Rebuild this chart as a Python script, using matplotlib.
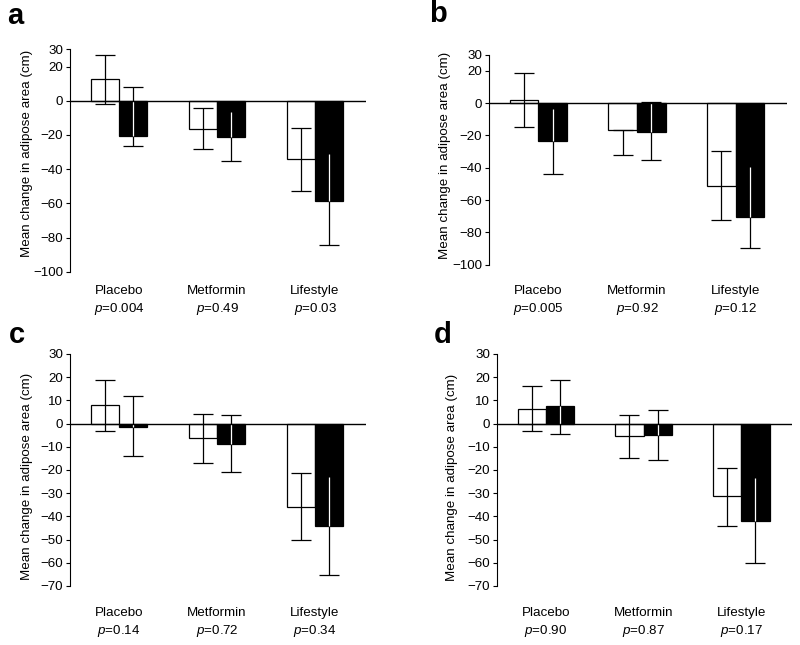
import matplotlib.pyplot as plt
import matplotlib.transforms as mtransforms
import numpy as np

plt.rcParams['font.family'] = 'Liberation Sans'
plt.rcParams['mathtext.fontset'] = 'custom'
plt.rcParams['mathtext.rm'] = 'Liberation Sans'
plt.rcParams['mathtext.it'] = 'Liberation Sans:italic'

groups = ['Placebo', 'Metformin', 'Lifestyle']
ylabel = 'Mean change in adipose area (cm)'

# panel a
a_white = [12.6, -16.5, -34.0]
a_white_lo = [-1.6, -28.2, -52.6]
a_white_hi = [26.8, -4.3, -15.7]
a_black = [-20.8, -21.4, -58.4]
a_black_lo = [-26.6, -35.3, -84.3]
a_black_hi = [7.8, -6.6, -31.3]
a_p = ['0.004', '0.49', '0.03']

# panel b
b_white = [2.1, -16.5, -51.1]
b_white_lo = [-15.1, -32.0, -72.4]
b_white_hi = [18.6, -16.5, -29.9]
b_black = [-23.5, -17.7, -70.5]
b_black_lo = [-43.7, -35.0, -89.7]
b_black_hi = [-3.7, 0.4, -39.8]
b_p = ['0.005', '0.92', '0.12']

# panel c
c_white = [7.9, -6.2, -35.9]
c_white_lo = [-3.2, -16.8, -50.3]
c_white_hi = [19.0, 4.3, -21.4]
c_black = [-1.4, -8.6, -44.1]
c_black_lo = [-13.9, -21.0, -65.1]
c_black_hi = [11.9, 3.7, -23.1]
c_p = ['0.14', '0.72', '0.34']

# panel d
d_white = [6.5, -5.5, -31.2]
d_white_lo = [-3.0, -14.9, -44.1]
d_white_hi = [16.1, 3.7, -19.1]
d_black = [7.6, -5.0, -42.0]
d_black_lo = [-4.6, -15.8, -59.9]
d_black_hi = [18.8, 5.9, -23.6]
d_p = ['0.90', '0.87', '0.17']

W, H = 800, 645
fig = plt.figure(figsize=(8, 6.45), dpi=100)

# (letter, axes rect in pixels [left, top, right, bottom], ylim, yticks, label rows y, ylabel pos, letter pos)
panels = [
    ('a', (70, 49.5, 366, 271.7), (-100, 30), [-100, -80, -60, -40, -20, 0, 20, 30], (291, 309), (27, 153), (15, 16),
     a_white, a_white_lo, a_white_hi, a_black, a_black_lo, a_black_hi, a_p),
    ('b', (489, 54.5, 787, 264.7), (-100, 30), [-100, -80, -60, -40, -20, 0, 20, 30], (291, 309), (445, 155), (438, 14),
     b_white, b_white_lo, b_white_hi, b_black, b_black_lo, b_black_hi, b_p),
    ('c', (70, 354, 366, 586), (-70, 30), list(range(-70, 31, 10)), (613, 631), (27, 476), (17, 335),
     c_white, c_white_lo, c_white_hi, c_black, c_black_lo, c_black_hi, c_p),
    ('d', (497, 354, 792, 586), (-70, 30), list(range(-70, 31, 10)), (613, 631), (452, 477), (443, 335),
     d_white, d_white_lo, d_white_hi, d_black, d_black_lo, d_black_hi, d_p),
]

bw = 0.29
x = np.arange(len(groups))

for (letter, (l, t, r, b), ylim, yticks, rows, lab_xy, let_xy,
     wm, wlo, whi, bm, blo, bhi, pv) in panels:
    ax = fig.add_axes([l / W, 1 - b / H, (r - l) / W, (b - t) / H])
    wm, wlo, whi = np.array(wm), np.array(wlo), np.array(whi)
    bm, blo, bhi = np.array(bm), np.array(blo), np.array(bhi)

    xw = x - bw / 2
    xb = x + bw / 2
    ax.bar(xw, wm, bw, color='white', edgecolor='black', linewidth=0.9, zorder=2)
    ax.bar(xb, bm, bw, color='black', edgecolor='black', linewidth=0.9, zorder=2)
    ax.errorbar(xw, wm, yerr=[wm - wlo, whi - wm], fmt='none', ecolor='black',
                elinewidth=0.9, capsize=7, capthick=0.9, zorder=3)
    ax.errorbar(xb, bm, yerr=[bm - blo, bhi - bm], fmt='none', ecolor='black',
                elinewidth=0.9, capsize=7, capthick=0.9, zorder=3)
    # part of the error line that lies inside a black bar shows white
    seg_lo = np.maximum(np.minimum(bm, 0), blo)
    seg_hi = np.minimum(np.maximum(bm, 0), bhi)
    ax.vlines(xb, seg_lo, seg_hi, color='white', linewidth=0.9, zorder=4)

    ax.axhline(0, color='black', linewidth=1.0, zorder=5)

    ax.set_xlim(-0.5, 2.52)
    ax.set_ylim(*ylim)
    ax.set_yticks(yticks)
    ax.set_xticks([])
    for s in ['top', 'right', 'bottom']:
        ax.spines[s].set_visible(False)
    ax.spines['left'].set_linewidth(0.8)
    ax.tick_params(axis='y', length=3, width=0.8, pad=2, labelsize=9.6)

    ax.set_ylabel(ylabel, fontsize=9.6, va='center')
    ax.yaxis.set_label_coords(lab_xy[0] / W, 1 - lab_xy[1] / H, transform=fig.transFigure)

    trans = mtransforms.blended_transform_factory(ax.transData, fig.transFigure)
    for i, g in enumerate(groups):
        ax.text(i, 1 - rows[0] / H, g, transform=trans, ha='center', va='center', fontsize=9.6)
        ax.text(i, 1 - rows[1] / H, '$p$=' + pv[i], transform=trans, ha='center', va='center', fontsize=9.6)

    fig.text(let_xy[0] / W, 1 - let_xy[1] / H, letter, fontsize=21, fontweight='bold',
             ha='center', va='center')

fig.savefig('out.png', dpi=100)
